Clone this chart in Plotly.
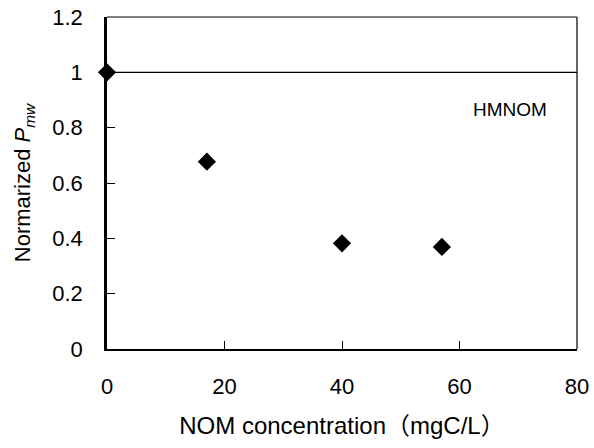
import plotly.graph_objects as go

nom_conc = [0, 17, 40, 57]
norm_pmw = [1.0, 0.677, 0.382, 0.369]
ref_level = 1.0
x_ticks = [0, 20, 40, 60, 80]
y_ticks = [0, 0.2, 0.4, 0.6, 0.8, 1, 1.2]
y_tick_text = ["0", "0.2", "0.4", "0.6", "0.8", "1", "1.2"]

SANS = "Liberation Sans, Arial, Noto Sans CJK JP, sans-serif"

fig = go.Figure()
fig.add_trace(go.Scatter(
    x=[0, 80], y=[ref_level, ref_level], mode="lines",
    line=dict(color="black", width=1.2), showlegend=False, hoverinfo="skip",
    cliponaxis=False,
))
fig.add_trace(go.Scatter(
    x=nom_conc, y=norm_pmw, mode="markers",
    marker=dict(symbol="diamond", size=14, color="black"),
    showlegend=False, cliponaxis=False,
))
fig.add_annotation(x=68.6, y=0.867, text="HMNOM", showarrow=False,
                   font=dict(family=SANS, size=19, color="black"))

# thin top/right frame
fig.add_shape(type="line", xref="x domain", yref="y domain", x0=0, x1=1, y0=1, y1=1,
              line=dict(color="black", width=1.2))
fig.add_shape(type="line", xref="x domain", yref="y domain", x0=1, x1=1, y0=0, y1=1,
              line=dict(color="black", width=1.2))

fig.update_layout(
    width=594, height=448,
    margin=dict(l=107, r=17, t=17, b=99, autoexpand=False),
    paper_bgcolor="white", plot_bgcolor="white",
    font=dict(family=SANS, size=22, color="black"),
)
fig.update_xaxes(
    range=[0, 80], tickvals=x_ticks, ticktext=[str(v) for v in x_ticks],
    showgrid=False, zeroline=False, showline=True, linecolor="black", linewidth=2,
    ticks="inside", ticklen=8, tickcolor="black", tickwidth=1,
    ticklabelstandoff=17, automargin=False, ticklabeloverflow="allow",
    title=dict(text="NOM concentration（mgC/L）", font=dict(family=SANS, size=24), standoff=19),
)
fig.update_yaxes(
    range=[0, 1.2], tickvals=y_ticks, ticktext=y_tick_text,
    showgrid=False, zeroline=False, showline=True, linecolor="black", linewidth=2.5,
    ticks="inside", ticklen=8, tickcolor="black", tickwidth=1,
    ticklabelstandoff=17, automargin=False, ticklabeloverflow="allow",
    title=dict(text="Normarized <i>P</i><sub><i>mw</i></sub>", font=dict(family=SANS, size=22), standoff=16),
)

fig.write_html("out.html", config={"displayModeBar": False},
               post_script="document.body.style.margin='0';")
